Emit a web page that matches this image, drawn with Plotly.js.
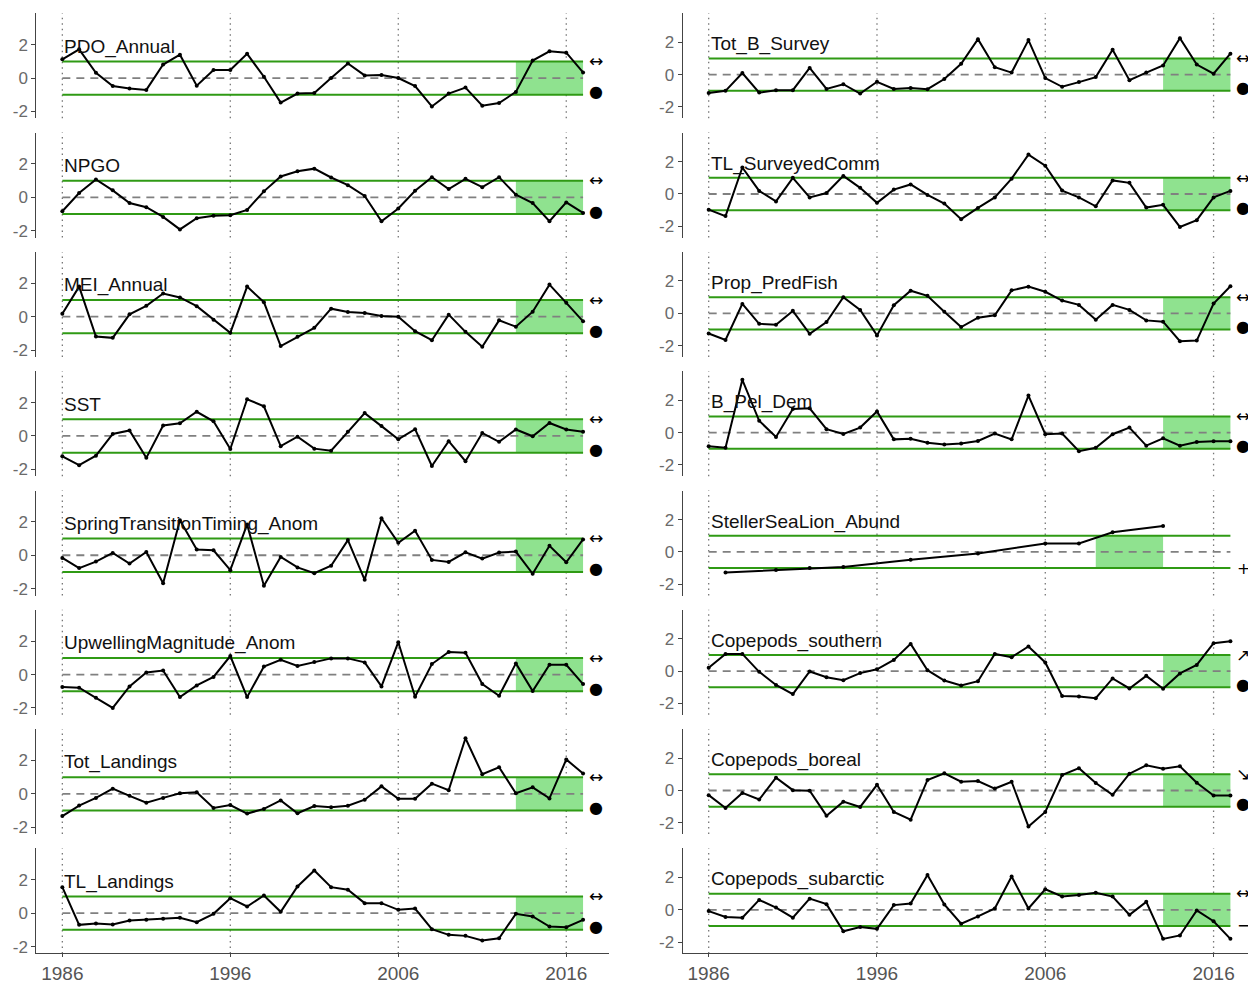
<!DOCTYPE html>
<html>
<head>
<meta charset="utf-8">
<script src="https://cdn.plot.ly/plotly-3.0.1.min.js"></script>
<style>
  html, body { margin: 0; padding: 0; overflow: hidden; background: #ffffff; }
  #chart { width: 1258px; height: 983px; }
</style>
</head>
<body>
<div id="chart"></div>
<script>
// Standardized anomaly time series, 1986-2017
const years = [1986, 1987, 1988, 1989, 1990, 1991, 1992, 1993, 1994, 1995, 1996,
  1997, 1998, 1999, 2000, 2001, 2002, 2003, 2004, 2005, 2006, 2007, 2008, 2009,
  2010, 2011, 2012, 2013, 2014, 2015, 2016, 2017];

const pdoAnnual = [1.12, 1.72, 0.32, -0.48, -0.63, -0.71, 0.81, 1.4, -0.46, 0.48, 0.48,
  1.45, 0.08, -1.47, -0.93, -0.89, 0.0, 0.87, 0.16, 0.18, 0.0, -0.48, -1.7, -0.93,
  -0.57, -1.66, -1.5, -0.83, 1.05, 1.6, 1.52, 0.34];
const npgo = [-0.83, 0.26, 1.07, 0.42, -0.34, -0.59, -1.17, -1.92, -1.25, -1.1, -1.07,
  -0.75, 0.36, 1.25, 1.56, 1.72, 1.19, 0.73, 0.08, -1.43, -0.67, 0.4, 1.21, 0.5,
  1.11, 0.61, 1.21, 0.16, -0.34, -1.43, -0.3, -0.93];
const meiAnnual = [0.18, 1.8, -1.19, -1.27, 0.14, 0.65, 1.39, 1.15, 0.63, -0.18, -0.97,
  1.8, 0.87, -1.76, -1.21, -0.67, 0.48, 0.28, 0.22, 0.04, 0.0, -0.87, -1.41, 0.12,
  -0.91, -1.8, -0.22, -0.6, 0.3, 1.92, 0.83, -0.28];
const sst = [-1.22, -1.75, -1.18, 0.12, 0.33, -1.31, 0.63, 0.76, 1.45, 0.88, -0.78,
  2.2, 1.78, -0.61, -0.04, -0.76, -0.88, 0.25, 1.37, 0.59, -0.2, 0.41, -1.8, -0.31,
  -1.51, 0.18, -0.35, 0.39, -0.02, 0.78, 0.39, 0.25];
const springTransition = [-0.16, -0.77, -0.38, 0.14, -0.5, 0.2, -1.68, 2.1, 0.34, 0.3, -0.89,
  1.85, -1.82, -0.1, -0.73, -1.07, -0.63, 0.91, -1.47, 2.22, 0.75, 1.47, -0.28, -0.4,
  0.18, -0.2, 0.16, 0.22, -1.11, 0.57, -0.42, 0.95];
const upwelling = [-0.75, -0.79, -1.39, -2.0, -0.71, 0.12, 0.24, -1.35, -0.65, -0.14, 1.11,
  -1.35, 0.48, 0.89, 0.51, 0.75, 0.97, 0.97, 0.73, -0.71, 1.94, -1.33, 0.63, 1.35,
  1.31, -0.57, -1.27, 0.67, -0.99, 0.59, 0.59, -0.57];
const totLandings = [-1.33, -0.7, -0.24, 0.31, -0.12, -0.53, -0.24, 0.04, 0.1, -0.84, -0.67,
  -1.18, -0.9, -0.39, -1.16, -0.73, -0.8, -0.71, -0.35, 0.45, -0.29, -0.29, 0.61, 0.22,
  3.33, 1.18, 1.59, 0.04, 0.39, -0.27, 2.06, 1.22];
const tlLandings = [1.56, -0.7, -0.62, -0.68, -0.44, -0.4, -0.34, -0.28, -0.54, -0.04, 0.9,
  0.4, 1.06, 0.08, 1.6, 2.56, 1.56, 1.4, 0.6, 0.6, 0.2, 0.28, -0.96, -1.3,
  -1.36, -1.64, -1.5, -0.04, -0.2, -0.8, -0.84, -0.4];

const totBSurvey = [-1.13, -1.0, 0.1, -1.11, -0.96, -0.96, 0.42, -0.88, -0.59, -1.17, -0.44,
  -0.88, -0.82, -0.9, -0.27, 0.67, 2.2, 0.46, 0.13, 2.14, -0.21, -0.75, -0.46, -0.15,
  1.55, -0.34, 0.13, 0.57, 2.26, 0.63, 0.06, 1.3];
const tlSurveyedComm = [-0.97, -1.37, 1.64, 0.19, -0.46, 1.0, -0.21, 0.06, 1.12, 0.38, -0.55,
  0.27, 0.59, -0.06, -0.59, -1.56, -0.86, -0.21, 0.95, 2.44, 1.75, 0.21, -0.21, -0.76,
  0.84, 0.69, -0.84, -0.67, -2.04, -1.62, -0.21, 0.19];
const propPredFish = [-1.25, -1.65, 0.58, -0.65, -0.71, 0.15, -1.27, -0.54, 1.0, 0.21, -1.37,
  0.5, 1.4, 1.08, 0.1, -0.85, -0.27, -0.12, 1.42, 1.65, 1.33, 0.79, 0.52, -0.4,
  0.52, 0.21, -0.44, -0.52, -1.73, -1.69, 0.6, 1.67];
const bPelDem = [-0.85, -0.94, 3.27, 0.73, -0.27, 1.46, 1.5, 0.21, -0.08, 0.31, 1.31,
  -0.42, -0.38, -0.63, -0.73, -0.67, -0.52, -0.06, -0.42, 2.29, -0.1, -0.06, -1.15, -0.94,
  -0.1, 0.31, -0.81, -0.35, -0.81, -0.58, -0.54, -0.54];
const sslYears = [1987, 1990, 1992, 1994, 1998, 2002, 2006, 2008, 2010, 2013];
const stellerSeaLion = [-1.27, -1.12, -1.0, -0.94, -0.48, -0.1, 0.52, 0.52, 1.21, 1.6];
const copepodsSouthern = [0.21, 1.07, 1.07, -0.04, -0.85, -1.42, -0.02, -0.37, -0.56, -0.12, 0.12,
  0.7, 1.69, 0.06, -0.58, -0.89, -0.62, 1.07, 0.87, 1.53, 0.54, -1.53, -1.57, -1.67,
  -0.45, -1.07, -0.29, -1.09, -0.14, 0.39, 1.73, 1.86];
const copepodsBoreal = [-0.29, -1.08, -0.15, -0.56, 0.79, 0.02, -0.02, -1.56, -0.69, -1.02, 0.35,
  -1.33, -1.81, 0.65, 1.06, 0.54, 0.58, 0.12, 0.54, -2.23, -1.33, 0.96, 1.38, 0.46,
  -0.27, 1.04, 1.56, 1.35, 1.5, 0.48, -0.31, -0.31];
const copepodsSubarctic = [-0.08, -0.45, -0.49, 0.61, 0.14, -0.49, 0.69, 0.35, -1.33, -1.06, -1.18,
  0.29, 0.39, 2.16, 0.33, -0.86, -0.41, 0.08, 2.06, 0.08, 1.27, 0.82, 0.92, 1.06,
  0.82, -0.31, 0.49, -1.8, -1.59, -0.04, -0.71, -1.8];

// Panel labels and status symbols (trend over recent window, recent mean)
const leftNames = ['PDO_Annual', 'NPGO', 'MEI_Annual', 'SST',
  'SpringTransitionTiming_Anom', 'UpwellingMagnitude_Anom', 'Tot_Landings', 'TL_Landings'];
const rightNames = ['Tot_B_Survey', 'TL_SurveyedComm', 'Prop_PredFish', 'B_Pel_Dem',
  'StellerSeaLion_Abund', 'Copepods_southern', 'Copepods_boreal', 'Copepods_subarctic'];
const leftTrend = ['↔', '↔', '↔', '↔', '↔', '↔', '↔', '↔'];
const leftMean = ['●', '●', '●', '●', '●', '●', '●', '●'];
const rightTrend = ['↔', '↔', '↔', '↔', '', '↗', '↘', '↔'];
const rightMean = ['●', '●', '●', '●', '+', '●', '●', '−'];
const recentWindow = [2013, 2017];
const sslRecentWindow = [2009, 2013];
const xTickYears = [1986, 1996, 2006, 2016];

const leftSeries = [pdoAnnual, npgo, meiAnnual, sst, springTransition, upwelling, totLandings, tlLandings];
const rightSeries = [totBSurvey, tlSurveyedComm, propPredFish, bPelDem, stellerSeaLion,
  copepodsSouthern, copepodsBoreal, copepodsSubarctic];

// Geometry (pixels)
const W = 1258, H = 983;
const panelTop0 = 13.3, panelH = 105, panelStep = 119.3;
const colX = [[36.3, 609.1], [682.6, 1256.5]];
const colYRange = [[-2.41, 3.88], [-2.7, 3.8]];
const xRange = [1984.45, 2018.55];
const symbolX = 2017.75;

const fontFam = 'Arial, "Liberation Sans", sans-serif';
const green = '#2f9a14';
const fillGreen = '#8fe28f';

const data = [];
const shapes = [];
const annotations = [];
const layout = {
  width: W, height: H,
  margin: {l: 0, r: 0, t: 0, b: 0},
  paper_bgcolor: '#ffffff', plot_bgcolor: 'rgba(0,0,0,0)',
  showlegend: false,
  font: {family: fontFam},
  shapes: shapes, annotations: annotations
};

function addPanel(col, row, name, xs, ys, win, trend, mean) {
  const k = col * 8 + row + 1;
  const xa = 'x' + (k === 1 ? '' : k);
  const ya = 'y' + (k === 1 ? '' : k);
  const xKey = 'xaxis' + (k === 1 ? '' : k);
  const yKey = 'yaxis' + (k === 1 ? '' : k);
  const top = panelTop0 + row * panelStep;
  const bottom = top + panelH;
  const isBottom = row === 7;

  layout[xKey] = {
    domain: [colX[col][0] / W, colX[col][1] / W],
    anchor: ya,
    range: xRange,
    tickvals: xTickYears,
    ticktext: xTickYears.map(String),
    showticklabels: isBottom,
    ticks: isBottom ? 'outside' : '',
    ticklen: 3, tickcolor: '#444',
    showline: isBottom, linecolor: '#444', linewidth: 1,
    showgrid: false, zeroline: false,
    tickfont: {size: 19, color: '#555555', family: fontFam}
  };
  layout[yKey] = {
    domain: [(H - bottom) / H, (H - top) / H],
    anchor: xa,
    range: colYRange[col],
    tickvals: [-2, 0, 2],
    ticktext: ['-2', '0', '2'],
    ticks: 'outside', ticklen: 4, tickcolor: '#444',
    showline: true, linecolor: '#444', linewidth: 1,
    showgrid: false, zeroline: false,
    tickfont: {size: 17, color: '#6a6a6a', family: fontFam}
  };

  // recent-window band between -1 and +1
  shapes.push({type: 'rect', xref: xa, yref: ya, x0: win[0], x1: win[1], y0: -1, y1: 1,
    fillcolor: fillGreen, line: {width: 0}, layer: 'below'});
  // +/- 1 s.d. lines and mean line
  [1, -1].forEach(v => shapes.push({type: 'line', xref: xa, yref: ya, x0: 1986, x1: 2017,
    y0: v, y1: v, line: {color: green, width: 2}, layer: 'below'}));
  shapes.push({type: 'line', xref: xa, yref: ya, x0: 1986, x1: 2017, y0: 0, y1: 0,
    line: {color: '#808080', width: 1.8, dash: '8px,6px'}, layer: 'below'});
  // dotted decade markers
  xTickYears.forEach(yr => shapes.push({type: 'line', xref: xa, yref: ya + ' domain',
    x0: yr, x1: yr, y0: 0, y1: 1, line: {color: '#777', width: 1.3, dash: '1.5px,4px'}, layer: 'below'}));

  data.push({
    type: 'scatter', mode: 'lines+markers', x: xs, y: ys, xaxis: xa, yaxis: ya,
    line: {color: '#000000', width: 2}, marker: {color: '#000000', size: 4},
    hoverinfo: 'x+y', cliponaxis: false
  });

  annotations.push({xref: xa, yref: ya, x: 1986, y: 1.88, text: name, showarrow: false,
    xanchor: 'left', yanchor: 'middle', font: {size: 19, color: '#111', family: fontFam}});
  if (trend) annotations.push({xref: xa, yref: ya, x: symbolX, y: 1.02, text: trend, showarrow: false,
    xanchor: 'center', yanchor: 'middle', font: {size: 17, color: '#000', family: '"DejaVu Sans", sans-serif'}});
  if (mean) annotations.push({xref: xa, yref: ya, x: symbolX, y: mean === '●' ? -0.82 : -1.0, text: mean,
    showarrow: false, xanchor: 'center', yanchor: 'middle',
    font: {size: 16, color: '#000', family: '"DejaVu Sans", sans-serif'}});
}

leftNames.forEach((n, i) => addPanel(0, i, n, years, leftSeries[i], recentWindow, leftTrend[i], leftMean[i]));
rightNames.forEach((n, i) => {
  const isSSL = n === 'StellerSeaLion_Abund';
  addPanel(1, i, n, isSSL ? sslYears : years, rightSeries[i],
    isSSL ? sslRecentWindow : recentWindow, rightTrend[i], rightMean[i]);
});

Plotly.newPlot('chart', data, layout, {displayModeBar: false, staticPlot: true});
</script>
</body>
</html>
